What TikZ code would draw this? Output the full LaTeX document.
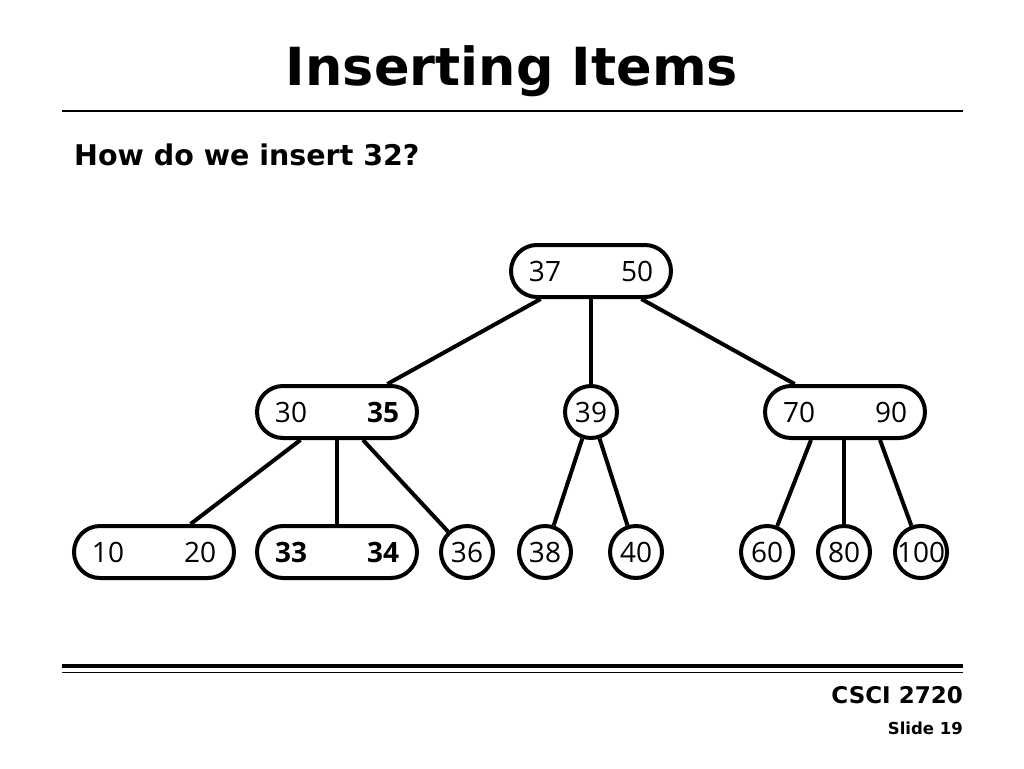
\documentclass[tikz,border=0pt]{standalone}
\usepackage{fontspec}
\setmainfont{Open Sans}
\newfontfamily\headfont{DejaVu Sans}[BoldFont={DejaVu Sans Bold}]
\begin{document}
\begin{tikzpicture}[x=1pt,y=-1pt,
  pill/.style={draw,line width=4pt,rectangle,rounded corners=26pt,minimum width=160pt,minimum height=52pt,inner sep=0pt,font=\fontsize{28}{28}\selectfont},
  circ/.style={draw,line width=4pt,circle,minimum size=52pt,inner sep=0pt,font=\fontsize{28}{28}\selectfont},
  edge/.style={line width=4pt},
  rule/.style={line width=1.5pt}]
\useasboundingbox (0,0) rectangle (1024,768);
\newcommand{\pair}[2]{\makebox[30pt]{#1}\hspace{62pt}\makebox[30pt]{#2}}
% header
\node[anchor=base,font=\headfont\bfseries\fontsize{52.5}{52.5}\selectfont,inner sep=0] (title) at (512,85) {Inserting Items};
\coordinate (r1a) at (62,111); \coordinate (r1b) at (963,111);
\draw[rule] (r1a) -- (r1b);
\node[anchor=base west,font=\headfont\bfseries\fontsize{28.5}{28.5}\selectfont,inner sep=0] (sub) at (74,165) {How do we insert 32?};
% tree
\node[pill] (root) at (591,271) {\pair{37}{50}};
\node[pill] (l) at (337,412) {\pair{30}{\textbf{35}}};
\node[circ] (m) at (591,412) {39};
\node[pill] (r) at (845,412) {\pair{70}{90}};
\node[pill] (a) at (154,552) {\pair{10}{20}};
\node[pill] (b) at (337,552) {\pair{\textbf{33}}{\textbf{34}}};
\node[circ] (c) at (467,552) {36};
\node[circ] (d) at (545,552) {38};
\node[circ] (e) at (636,552) {40};
\node[circ] (f) at (767,552) {60};
\node[circ] (g) at (844,552) {80};
\node[circ] (h) at (921,552) {100};
\draw[edge] (root) -- (l);
\draw[edge] (root.south) -- (m);
\draw[edge] (root) -- (r);
\draw[edge] (l) -- (a);
\draw[edge] (l.south) -- (b.north);
\draw[edge] (l) -- (c);
\draw[edge] (m) -- (d);
\draw[edge] (m) -- (e);
\draw[edge] ([xshift=-34pt]r.south) -- (f);
\draw[edge] ([xshift=-1pt]r.south) -- (g.north);
\draw[edge] ([xshift=35pt]r.south) -- (h);
% footer
\coordinate (f1a) at (62,666); \coordinate (f1b) at (963,666);
\coordinate (f2a) at (62,672.5); \coordinate (f2b) at (963,672.5);
\draw[line width=4.5pt] (f1a) -- (f1b);
\draw[rule] (f2a) -- (f2b);
\node[anchor=base east,font=\headfont\bfseries\fontsize{23}{23}\selectfont,inner sep=0] (course) at (963,703) {CSCI 2720};
\node[anchor=base east,font=\headfont\bfseries\fontsize{16.5}{16.5}\selectfont,inner sep=0] (slide) at (963,734) {Slide 19};
\end{tikzpicture}
\end{document}
